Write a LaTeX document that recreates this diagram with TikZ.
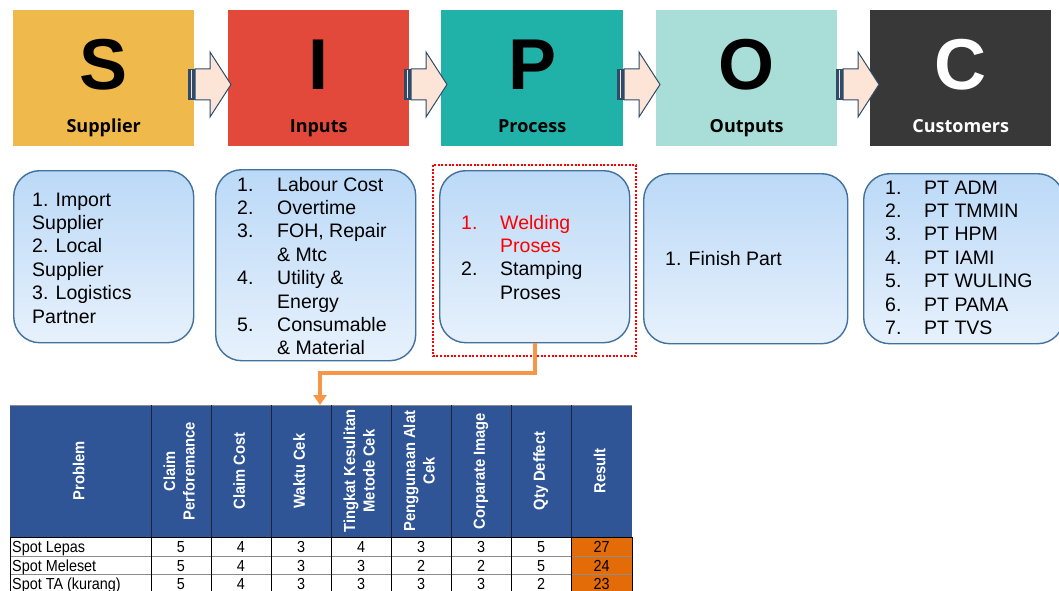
\documentclass[tikz,border=0pt]{standalone}
\usepackage{graphicx}
\usepackage{fontspec}
\setmainfont{Liberation Sans}
\newfontfamily\opensans{Open Sans}
\usetikzlibrary{arrows.meta}
\definecolor{cS}{HTML}{F0B94C}
\definecolor{cI}{HTML}{E2493B}
\definecolor{cP}{HTML}{20B2A9}
\definecolor{cO}{HTML}{A9DED8}
\definecolor{cC}{HTML}{383838}
\definecolor{boxtop}{HTML}{BBD9F7}
\definecolor{boxbot}{HTML}{E7F1FC}
\definecolor{boxline}{HTML}{41719C}
\definecolor{arrfill}{HTML}{FCE4D6}
\definecolor{arrline}{HTML}{2F4B6A}
\definecolor{orangec}{HTML}{F79646}
\definecolor{thead}{HTML}{2F5597}
\definecolor{tres}{HTML}{E36C09}
\definecolor{hgrid}{HTML}{1B2438}
\definecolor{rgrid}{HTML}{8C8C8C}
\newcommand\sarrow[1]{%
  \begin{scope}[shift={(#1,0)}]
    \fill[arrline] (0,69) rectangle (7,100);
    \fill[arrfill] (2.6,70.5) rectangle (3.8,98.5);
    \draw[arrline, fill=arrfill, line width=1pt, line join=miter]
      (7,69) -- (22,69) -- (22,52) -- (43,84.5) -- (22,117) -- (22,100) -- (7,100) -- cycle;
  \end{scope}}
\newcommand\hcond[1]{\scalebox{0.92}[1]{\begin{tabular}{@{}c@{}}#1\end{tabular}}}
\newcommand\rcond[1]{\scalebox{0.9}[1]{#1}}
\begin{document}
\begin{tikzpicture}[x=1pt,y=-1pt,
  hdr/.style={minimum width=181pt, minimum height=136pt, inner sep=0, anchor=north west, draw=none},
  letter/.style={font=\fontsize{72}{72}\selectfont\bfseries, inner sep=0, anchor=base},
  hlabel/.style={font=\opensans\fontsize{18}{18}\selectfont\bfseries, inner sep=0, anchor=base},
  infobox/.style={draw=boxline, line width=1.4pt, rounded corners=26pt, top color=boxtop, bottom color=boxbot, inner sep=0, anchor=north west},
  btxt/.style={font=\fontsize{19.5}{23.4}\selectfont, inner sep=0, anchor=base west},
  thtxt/.style={font=\fontsize{16}{19.5}\selectfont\bfseries, text=white, rotate=90, inner sep=0},
  cell/.style={font=\fontsize{16}{17}\selectfont, inner sep=0, anchor=base}]
\useasboundingbox (0,0) rectangle (1059,591);
\fill[white] (0,0) rectangle (1059,591);

% header boxes
\node[hdr, fill=cS] (S) at (13,10) {};
\node[hdr, fill=cI] (I) at (228,10) {};
\node[hdr, fill=cP, minimum width=182pt] (P) at (441,10) {};
\node[hdr, fill=cO] (O) at (656,10) {};
\node[hdr, fill=cC] (C) at (870,10) {};
\foreach \n/\l/\t/\c in {S/S/Supplier/black, I/I/Inputs/black, P/P/Process/black, O/O/Outputs/black, C/C/Customers/white}{
  \node[letter, text=\c] (\n let) at ([yshift=-11pt]\n.center) {\l};
  \node[hlabel, text=\c] (\n lab) at ([yshift=-54pt]\n.center) {\t};
}
% striped arrows
\sarrow{188}
\sarrow{404}
\sarrow{617}
\sarrow{836}

% info boxes
\node[infobox, minimum width=180pt, minimum height=172pt] (supbox) at (13,170) {};
\node[infobox, minimum width=200pt, minimum height=191pt] (inbox) at (215,169) {};
\node[infobox, minimum width=190pt, minimum height=172pt] (procbox) at (439,170) {};
\node[infobox, minimum width=204pt, minimum height=170pt] (outbox) at (643,173) {};
\node[infobox, minimum width=200pt, minimum height=170pt] (custbox) at (863,173) {};

\node[btxt] (suptxt) at (32,206) {\begin{tabular}[t]{@{}l@{}}1. Import\\Supplier\\2. Local\\Supplier\\3. Logistics\\Partner\end{tabular}};
\node[btxt] (intxt) at (237,191) {\begin{tabular}[t]{@{}p{40pt}@{}l@{}}1.&Labour Cost\\2.&Overtime\\3.&FOH, Repair\\&\& Mtc\\4.&Utility \&\\&Energy\\5.&Consumable\\&\& Material\end{tabular}};
\node[btxt] (proctxt) at (461,229) {\begin{tabular}[t]{@{}p{39pt}@{}l@{}}\textcolor{red}{1.}&\textcolor{red}{Welding}\\&\textcolor{red}{Proses}\\2.&Stamping\\&Proses\end{tabular}};
\node[btxt] (outtxt) at (665,265) {1. Finish Part};
\node[btxt] (custtxt) at (885,194) {\begin{tabular}[t]{@{}p{39pt}@{}l@{}}1.&PT ADM\\2.&PT TMMIN\\3.&PT HPM\\4.&PT IAMI\\5.&PT WULING\\6.&PT PAMA\\7.&PT TVS\end{tabular}};

% dotted highlight
\draw[red, line width=2pt, dash pattern=on 2pt off 1.6pt] (433,165) rectangle (636,356);

% table
\fill[thead] (10,405) rectangle (632,537);
\fill[tres] (571,537) rectangle (632,592);
\draw[rgrid, line width=0.8pt] (10,405) -- (632,405);
\foreach \x in {151,211,271,331,391,451,511,571}{
  \draw[hgrid, line width=0.9pt] (\x,405) -- (\x,537);
}
\foreach \y in {556,574}{
  \draw[rgrid, line width=0.8pt] (10,\y) -- (632,\y);
}
\draw[black, line width=1pt] (10,537) -- (632,537);
\foreach \x in {10,151,211,271,331,391,451,511,571,632}{
  \draw[black, line width=0.8pt] (\x,537) -- (\x,592);
}
\foreach \x/\t [count=\i] in {80.5/Problem, 181/{Claim\\Perforemance}, 241/{Claim Cost}, 301/{Waktu Cek}, 361/{Tingkat Kesulitan\\Metode Cek}, 421/{Penggunaan  Alat\\Cek}, 481/{Corparate Image}, 541/{Qty Deffect}, 601.5/Result}{
  \node[thtxt] (h\i) at (\x,471) {\hcond{\t}};
}
\foreach \y/\nm/\a/\b/\c/\d/\e/\f/\g/\r [count=\j] in {552.5/Spot Lepas/5/4/3/4/3/3/5/27, 571/Spot Meleset/5/4/3/3/2/2/5/24, 589.5/Spot TA (kurang)/5/4/3/3/3/3/2/23}{
  \node[cell, anchor=base west] (r\j-1) at (12,\y) {\rcond{\nm}};
  \foreach \x/\v [count=\k from 2] in {181/\a, 241/\b, 301/\c, 361/\d, 421/\e, 481/\f, 541/\g, 601.5/\r}{
    \node[cell] (r\j-\k) at (\x,\y) {\rcond{\v}};
  }
}

% connector
\coordinate (tgt) at (320,405);
\draw[orangec, line width=4pt, -{Triangle[width=13pt,length=10pt]}] (procbox.south) -- ++(0,30) -| (tgt);
\end{tikzpicture}
\end{document}
